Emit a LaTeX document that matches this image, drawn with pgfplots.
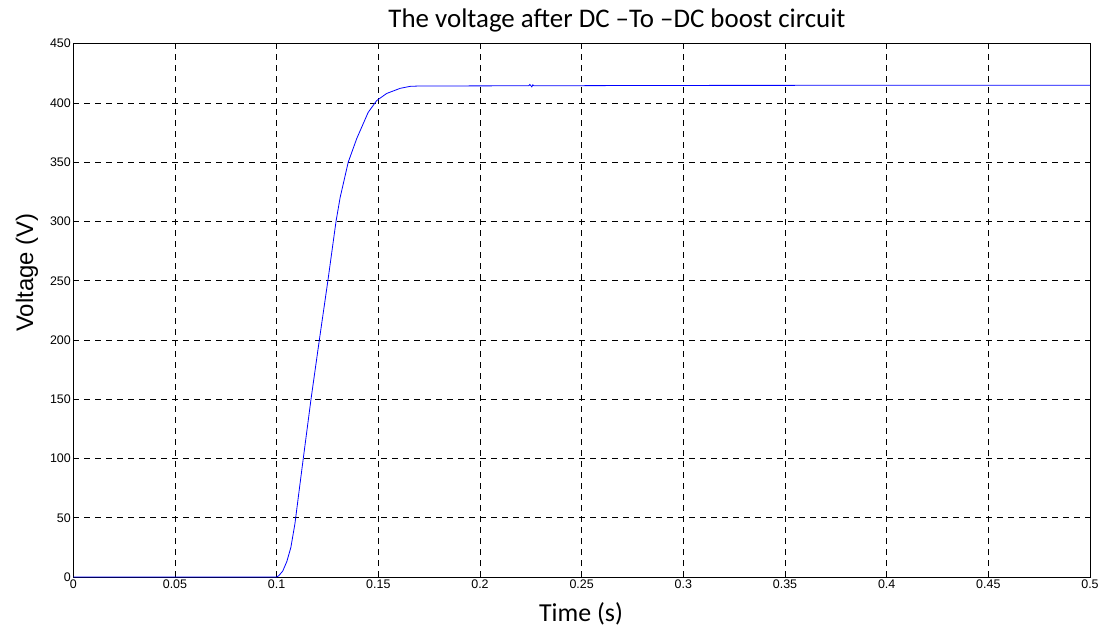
\documentclass[border=0pt]{standalone}
\usepackage{pgfplots}
\pgfplotsset{compat=1.18}
\usepackage{fontspec}
\setmainfont{Carlito}
\newfontfamily\arialf{Liberation Sans}
\begin{document}
\begin{tikzpicture}
\begin{axis}[
  at={(0,0)}, anchor=south west,
  scale only axis, width=1016.7bp, height=533.3bp,
  xmin=0, xmax=0.5, ymin=0, ymax=450,
  xtick={0,0.05,...,0.5}, ytick={0,50,...,450},
  xticklabels={0,0.05,0.1,0.15,0.2,0.25,0.3,0.35,0.4,0.45,0.5},
  tick pos=both, tick align=inside, major tick length=5bp,
  grid=major,
  major grid style={black, dash pattern=on 6bp off 5bp, line width=0.6bp},
  axis line style={black, line width=0.8bp},
  tick style={black, line width=0.6bp},
  /pgf/number format/assume math mode=true,
  tick label style={font=\arialf\fontsize{12.5}{14}\selectfont},
  xticklabel style={yshift=1bp},
  yticklabel style={xshift=1bp},
]
\addplot[blue, line width=0.8bp] coordinates {
(0,0) (0.1,0) (0.101,1) (0.103,5) (0.105,13) (0.107,25) (0.109,45)
(0.111,72) (0.1131,100) (0.1169,150) (0.121,200) (0.1252,250)
(0.1292,300) (0.1312,320) (0.1352,350) (0.1394,370) (0.145,392)
(0.1492,402) (0.1541,408) (0.1607,412.3) (0.1656,414) (0.17,414.3)
(0.224,414.5) (0.2245,415.6) (0.2255,413.6) (0.226,415.4) (0.2265,414.5)
(0.3,414.8) (0.5,415)
};
\end{axis}
\node[font=\fontsize{27}{32}\selectfont, anchor=base] at (543.7bp,549bp) {The voltage after DC –To –DC boost circuit};
\node[font=\arialf\fontsize{24}{28}\selectfont, rotate=90, anchor=base] at (-40.3bp,304.5bp) {Voltage (V)};
\node[font=\fontsize{26}{30}\selectfont, anchor=base] at (507.7bp,-44.7bp) {Time (s)};
\path (-73.3bp,-52bp) rectangle (1033.7bp,577bp);
\end{tikzpicture}
\end{document}
